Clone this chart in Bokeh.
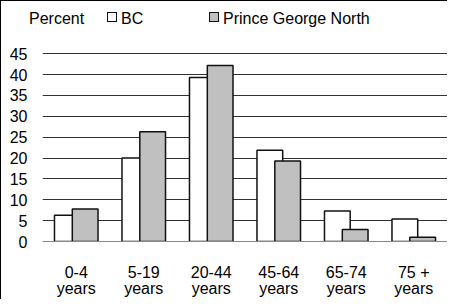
from bokeh.plotting import figure
from bokeh.layouts import column
from bokeh.models import FixedTicker, Range1d, Div
from bokeh.embed import file_html
from bokeh.resources import INLINE

categories = ["0-4 years", "5-19 years", "20-44 years", "45-64 years", "65-74 years", "75 + years"]
tick_labels = ["0-4\nyears", "5-19\nyears", "20-44\nyears", "45-64\nyears", "65-74\nyears", "75 +\nyears"]
bc = [6.3, 20.0, 39.3, 21.9, 7.3, 5.4]
pgn = [7.8, 26.3, 42.2, 19.3, 2.9, 1.0]
y_ticks = [0, 5, 10, 15, 20, 25, 30, 35, 40, 45]
series_names = ["BC", "Prince George North"]
y_title = "Percent"

FONT = "Liberation Sans"
FS = "16px"
BC_FILL = "white"
PG_FILL = "#c0c0c0"
EDGE = "#111111"

W = 446
TOP_H = 43
MAIN_H = 255

# ---- header strip: "Percent" + legend (HTML text) ----
def swatch(left, fill):
    return (f'<span style="position:absolute;left:{left}px;top:11px;width:10px;height:10px;'
            f'box-sizing:border-box;border:1.5px solid {EDGE};background:{fill};"></span>')

def txt(left, s):
    return (f'<span style="position:absolute;left:{left}px;top:9px;line-height:18px;'
            f'white-space:nowrap;">{s}</span>')

header_html = (
    f'<div style="position:relative;width:{W}px;height:{TOP_H}px;font-family:\'{FONT}\';'
    f'font-size:{FS};color:black;">'
    + txt(28, y_title)
    + swatch(106, BC_FILL) + txt(120, series_names[0])
    + swatch(208, PG_FILL) + txt(222, series_names[1])
    + '</div>'
)
header = Div(text=header_html, width=W, height=TOP_H, margin=0)

# ---- main chart ----
xs = list(range(len(categories)))
off = 0.132
bw = 0.381

p = figure(width=W, height=MAIN_H, output_backend="svg", toolbar_location=None,
           x_range=Range1d(-0.5, len(categories) - 0.5), y_range=Range1d(0, 45.3),
           min_border_left=41, min_border_right=0, min_border_top=8, min_border_bottom=56)
p.outline_line_color = None
p.background_fill_color = "white"
p.border_fill_color = "white"

p.vbar(x=[v - off for v in xs], top=bc, width=bw, bottom=0,
       fill_color=BC_FILL, line_color=EDGE, line_width=1.5, legend_label=series_names[0])
p.vbar(x=[v + off for v in xs], top=pgn, width=bw, bottom=0,
       fill_color=PG_FILL, line_color=EDGE, line_width=1.5, legend_label=series_names[1])
p.legend.visible = False

p.xgrid.visible = False
p.ygrid.ticker = FixedTicker(ticks=y_ticks)
p.ygrid.grid_line_color = "#333333"
p.ygrid.grid_line_width = 1

p.yaxis.ticker = FixedTicker(ticks=y_ticks)
p.yaxis.axis_line_color = None
p.yaxis.major_tick_line_color = None
p.yaxis.minor_tick_line_color = None
p.yaxis.major_label_standoff = 9
p.yaxis.major_label_text_font = FONT
p.yaxis.major_label_text_font_size = FS
p.yaxis.major_label_text_color = "black"

p.xaxis.ticker = FixedTicker(ticks=xs)
p.xaxis.major_label_overrides = {i: t for i, t in zip(xs, tick_labels)}
p.xaxis.axis_line_color = "#888888"
p.xaxis.major_tick_line_color = None
p.xaxis.minor_tick_line_color = None
p.xaxis.major_label_standoff = 16
p.xaxis.major_label_text_font = FONT
p.xaxis.major_label_text_font_size = FS
p.xaxis.major_label_text_color = "black"
p.xaxis.major_label_text_line_height = 0.95

layout = column(header, p, spacing=0,
                styles={"border-left": "1px solid black", "border-top": "1px solid black"})

open("out.html", "w").write(file_html(layout, INLINE))
